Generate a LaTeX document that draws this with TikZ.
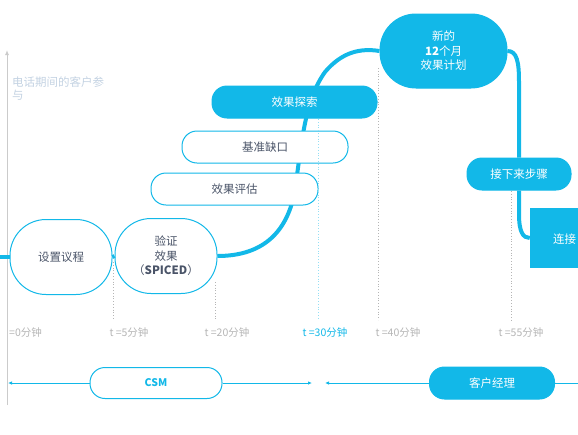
\documentclass[tikz,border=0pt]{standalone}
\usepackage{fontspec}
\setmainfont{Noto Sans CJK SC}
\usetikzlibrary{arrows.meta}
\definecolor{cy}{HTML}{12B8E8}
\definecolor{txt}{HTML}{4A5468}
\definecolor{lg}{HTML}{B5B5B5}
\definecolor{axl}{HTML}{C3D2E2}
\begin{document}
\begin{tikzpicture}[x=1pt,y=-1pt,
  bigbub/.style={draw=cy, line width=1pt, fill=white, rounded corners=36pt, minimum width=102pt, minimum height=75pt, inner sep=0pt, align=center, text=txt, font=\fontsize{11.5}{14.5}\selectfont},
  bigfill/.style={bigbub, fill=cy, text=white},
  pill/.style={draw=cy, line width=1pt, fill=white, rounded corners=15pt, minimum height=32pt, inner sep=0pt, text=txt, font=\fontsize{11.5}{13}\selectfont},
  pillfill/.style={pill, fill=cy, text=white},
  timel/.style={text=lg, font=\fontsize{10.5}{12}\selectfont, inner sep=0pt},
  guide/.style={lg, dotted, line width=0.8pt},
  flow/.style={cy, line width=4pt},
  arr/.style={cy, line width=0.9pt, -{Latex[length=4pt,width=3.5pt]}}
]
\useasboundingbox (0,0) rectangle (578,434);
\clip (0,0) rectangle (578,434);

% vertical axis
\coordinate (axb) at (7,405);
\coordinate (axt) at (7,50);
\draw[lg!70, line width=1pt, -{Latex[length=5pt,width=4pt]}] (axb) -- (axt);
\node[anchor=north west, align=left, text=axl, font=\fontsize{11.5}{13}\selectfont, inner sep=0pt] (axlab) at (12,77) {电话期间的客户参\\与};

% main nodes
\node[bigbub] (agenda) at (61,257) {设置议程};
\node[bigbub] (verify) at (166,256) {验证\\效果\\（\textbf{SPICED}）};
\node[bigfill, minimum width=127pt, minimum height=74pt] (plan) at (443.5,51) {新的\\\textbf{12}个月\\效果计划};
\node[pillfill, minimum width=104pt] (next) at (519,174) {接下来步骤};
\node[fill=cy, minimum width=100pt, minimum height=60pt, inner sep=0pt] (connect) at (580,238) {};
\node[anchor=west, text=white, font=\fontsize{11.5}{13}\selectfont, inner sep=0pt] (connlab) at (553,239) {连接};

% thick flow line
\coordinate (lstart) at (0,257);
\draw[flow] (lstart) -- (agenda.west);
\draw[flow] (agenda.east) -- (verify.west);
\draw[flow] (verify.east) .. controls (265,256) and (288,230) .. (295,190)
  .. controls (302,140) and (305,100) .. (325,72)
  .. controls (342,52) and (360,48) .. (plan.west);
\draw[flow] (plan.east) .. controls (517,51) and (519,62) .. (519,82) -- (next.north);
\draw[flow] (next.south) -- (519,214) .. controls (519,232) and (523,238) .. (connect.west);

% stacked pills
\node[pill, minimum width=167pt] (eval) at (234.5,189) {效果评估};
\node[pill, minimum width=166pt] (gap) at (265,147) {基准缺口};
\node[pillfill, minimum width=165pt] (explore) at (294.5,102) {效果探索};

% time labels
\node[timel, anchor=west] (t0) at (9,333) {=0分钟};
\node[timel] (t5) at (129,333) {t =5分钟};
\node[timel] (t20) at (227,333) {t =20分钟};
\node[timel, text=cy] (t30) at (325,333) {t =30分钟};
\node[timel] (t40) at (398,333) {t =40分钟};
\node[timel] (t55) at (521,333) {t =55分钟};

% dotted guides
\coordinate (g5a) at (113,262);  \coordinate (g5b) at (113,320);
\coordinate (g20a) at (215,282); \coordinate (g20b) at (215,320);
\coordinate (g30a) at (318,119); \coordinate (g30b) at (318,320);
\coordinate (g40a) at (378,68);  \coordinate (g40b) at (378,320);
\coordinate (g55a) at (511,191); \coordinate (g55b) at (511,320);
\draw[guide] (g5a) -- (g5b);
\draw[guide] (g20a) -- (g20b);
\draw[guide, draw=cy!45] (g30a) -- (g30b);
\draw[guide] (g40a) -- (g40b);
\draw[guide] (g55a) -- (g55b);

% bottom roles
\node[pill, minimum width=132pt, minimum height=31pt, text=cy, font=\fontsize{10.5}{12}\selectfont\bfseries] (csm) at (156,383) {CSM};
\node[pillfill, minimum width=125pt, minimum height=32pt] (mgr) at (492,383) {客户经理};
\coordinate (csmL) at (8,383);
\coordinate (csmR) at (312,383);
\coordinate (mgrL) at (325,383);
\coordinate (mgrR) at (580,383);
\draw[arr] (csm.west) -- (csmL);
\draw[arr] (csm.east) -- (csmR);
\draw[arr] (mgr.west) -- (mgrL);
\draw[cy, line width=0.9pt] (mgr.east) -- (mgrR);
\end{tikzpicture}
\end{document}
